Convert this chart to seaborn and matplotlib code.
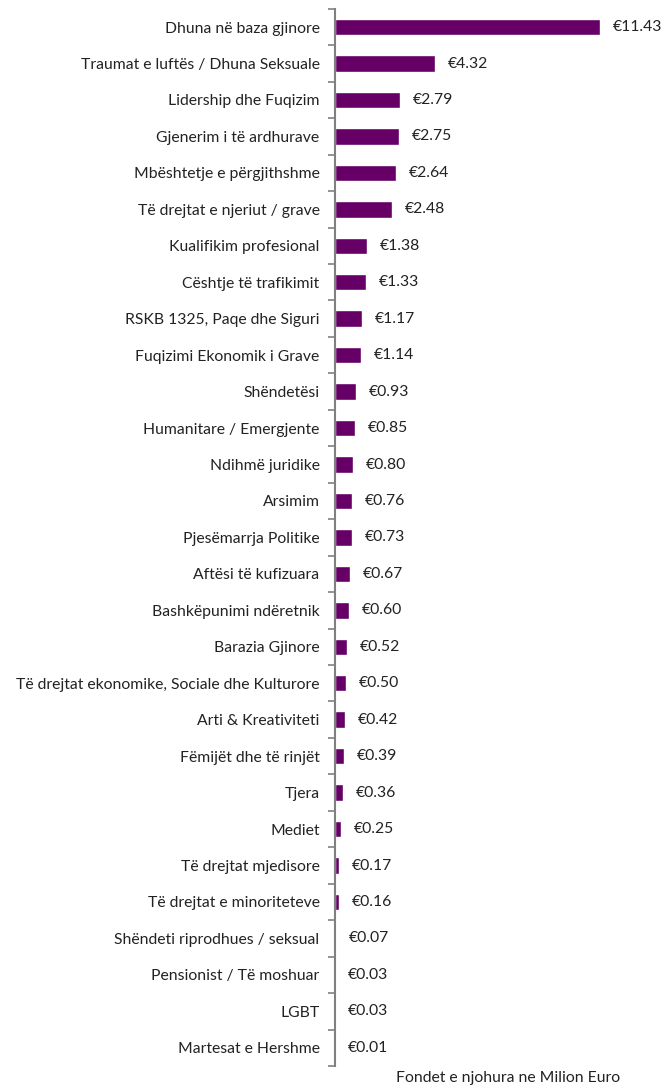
import numpy as np
import pandas as pd
import seaborn as sns
import matplotlib.pyplot as plt
from matplotlib.ticker import FixedLocator

categories = [
    "Dhuna në baza gjinore",
    "Traumat e luftës / Dhuna Seksuale",
    "Lidership dhe Fuqizim",
    "Gjenerim i të ardhurave",
    "Mbështetje e përgjithshme",
    "Të drejtat e njeriut / grave",
    "Kualifikim profesional",
    "Cështje të trafikimit",
    "RSKB 1325, Paqe dhe Siguri",
    "Fuqizimi Ekonomik i Grave",
    "Shëndetësi",
    "Humanitare / Emergjente",
    "Ndihmë juridike",
    "Arsimim",
    "Pjesëmarrja Politike",
    "Aftësi të kufizuara",
    "Bashkëpunimi ndëretnik",
    "Barazia Gjinore",
    "Të drejtat ekonomike, Sociale dhe Kulturore",
    "Arti & Kreativiteti",
    "Fëmijët dhe të rinjët",
    "Tjera",
    "Mediet",
    "Të drejtat mjedisore",
    "Të drejtat e minoriteteve",
    "Shëndeti riprodhues / seksual",
    "Pensionist / Të moshuar",
    "LGBT",
    "Martesat e Hershme",
]
values = [11.43, 4.32, 2.79, 2.75, 2.64, 2.48, 1.38, 1.33, 1.17, 1.14,
          0.93, 0.85, 0.80, 0.76, 0.73, 0.67, 0.60, 0.52, 0.50, 0.42,
          0.39, 0.36, 0.25, 0.17, 0.16, 0.07, 0.03, 0.03, 0.01]
xlabel = "Fondet e njohura ne Milion Euro"

df = pd.DataFrame({"cat": categories, "val": values})

sns.set_style("white")
plt.rcParams['font.family'] = ['Lato', 'DejaVu Sans']

FS = 11.3
fig = plt.figure(figsize=(6.67, 10.89), dpi=100)
ax = fig.add_axes([0.502, 0.0211, 0.52, 0.9708])

sns.barplot(df, x="val", y="cat", color="#660066", width=0.45, ax=ax,
            saturation=1, orient="h")

for i, v in enumerate(values):
    ax.text(v + 0.55, i, f"€{v:.2f}", va="center", ha="left",
            fontsize=FS, color="#222222")

ax.set_xlim(0, 14.95)
ax.set_ylim(len(categories) - 0.5, -0.5)
ax.set_xticks([])
ax.set_ylabel("")
ax.set_xlabel(xlabel, fontsize=FS, color="#222222")
ax.xaxis.set_label_coords(0.5, -0.005)
ax.xaxis.label.set_va("top")

ax.tick_params(axis="y", which="major", length=0, pad=11, labelsize=FS,
               labelcolor="#222222")
ax.yaxis.set_minor_locator(FixedLocator(np.arange(-0.5, len(categories) + 0.5, 1)))
ax.tick_params(axis="y", which="minor", length=5, width=1.2, color="#808080",
               left=True)

for s in ["top", "right", "bottom"]:
    ax.spines[s].set_visible(False)
ax.spines["left"].set_color("#808080")
ax.spines["left"].set_linewidth(1.5)

fig.savefig("out.png", dpi=100)
